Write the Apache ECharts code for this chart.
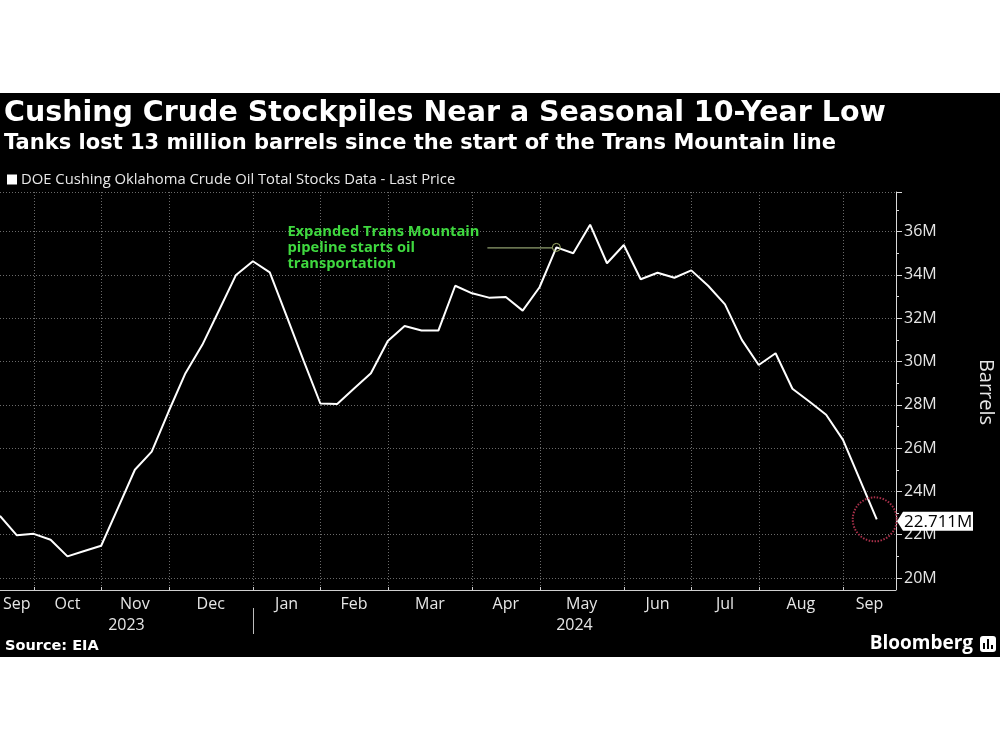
<!DOCTYPE html>
<html><head><meta charset="utf-8">
<script src="https://cdn.jsdelivr.net/npm/echarts@6/dist/echarts.min.js"></script>
<style>html,body{margin:0;padding:0;background:#fff}#c{width:1000px;height:750px}</style>
</head><body><div id="c"></div>
<script>
// ---- data ----
const weeks = [
  '2023-09-22','2023-09-29','2023-10-06','2023-10-13','2023-10-20','2023-10-27',
  '2023-11-03','2023-11-10','2023-11-17','2023-11-24','2023-12-01','2023-12-08',
  '2023-12-15','2023-12-22','2023-12-29','2024-01-05','2024-01-12','2024-01-19',
  '2024-01-26','2024-02-02','2024-02-09','2024-02-16','2024-02-23','2024-03-01',
  '2024-03-08','2024-03-15','2024-03-22','2024-03-29','2024-04-05','2024-04-12',
  '2024-04-19','2024-04-26','2024-05-03','2024-05-10','2024-05-17','2024-05-24',
  '2024-05-31','2024-06-07','2024-06-14','2024-06-21','2024-06-28','2024-07-05',
  '2024-07-12','2024-07-19','2024-07-26','2024-08-02','2024-08-09','2024-08-16',
  '2024-08-23','2024-08-30','2024-09-06','2024-09-13','2024-09-20'
];
const stocks = [
  22.87, 21.97, 22.04, 21.77, 21.00, 21.25,
  21.49, 23.24, 25.00, 25.84, 27.69, 29.46,
  30.77, 32.38, 34.00, 34.63, 34.12, 32.10,
  30.05, 28.06, 28.04, 28.75, 29.46, 30.95,
  31.64, 31.43, 31.43, 33.50, 33.15, 32.95,
  32.98, 32.35, 33.43, 35.27, 35.00, 36.32,
  34.54, 35.38, 33.80, 34.10, 33.87, 34.21,
  33.50, 32.64, 31.00, 29.84, 30.38, 28.74,
  28.15, 27.54, 26.38, 24.54, 22.711
];
const monthLabels = ['Sep','Oct','Nov','Dec','Jan','Feb','Mar','Apr','May','Jun','Jul','Aug','Sep'];
const yearLabels = ['2023','2024'];
const xMinDate = '2023-09-22';
const xMaxDate = '2024-09-28';
const yMin = 20, yMax = 37.83, yStep = 2;
const seriesName = 'DOE Cushing Oklahoma Crude Oil Total Stocks Data - Last Price';
const titleText = 'Cushing Crude Stockpiles Near a Seasonal 10-Year Low';
const subtitleText = 'Tanks lost 13 million barrels since the start of the Trans Mountain line';
const annotationDate = '2024-05-10';
const annotationLines = ['Expanded Trans Mountain', 'pipeline starts oil', 'transportation'];
const yAxisTitle = 'Barrels';
const sourceText = 'Source: EIA';
const brandText = 'Bloomberg';

// ---- helpers ----
function toTime(s) { const p = s.split('-').map(Number); return new Date(p[0], p[1] - 1, p[2]).getTime(); }
const FONT = '"Open Sans", "DejaVu Sans", sans-serif';
const BFONT = '"DejaVu Sans", "Open Sans", sans-serif';
const xMin = toTime(xMinDate), xMax = toTime(xMaxDate);
const lineData = weeks.map((d, i) => [toTime(d), stocks[i]]);
const monthBounds = [];
let yearBound = null;
for (let i = 1; i < weeks.length; i++) {
  const a = weeks[i - 1].split('-'), b = weeks[i].split('-');
  if (a[1] !== b[1]) monthBounds.push(toTime(weeks[i]));
  if (a[0] !== b[0]) yearBound = toTime(weeks[i]);
}
const segs = [xMin].concat(monthBounds, [xMax]);
const lastIdx = stocks.length - 1;
const annIdx = weeks.indexOf(annotationDate);

const chart = echarts.init(document.getElementById('c'), null, { renderer: 'canvas' });

function renderBack(params, api) {
  const cs = params.coordSys;
  const base = cs.y + cs.height;
  const axisY = base + 12;
  const ch = [];
  monthBounds.forEach(t => {
    const x = Math.round(api.coord([t, yMin])[0]) + 0.5;
    ch.push({ type: 'line', shape: { x1: x, y1: cs.y, x2: x, y2: axisY },
      style: { stroke: '#6a6a6a', lineWidth: 1, lineDash: [1, 2] } });
    ch.push({ type: 'line', shape: { x1: x, y1: axisY - 3, x2: x, y2: axisY },
      style: { stroke: '#cfcfcf', lineWidth: 1 } });
  });
  for (let i = 0; i < segs.length - 1; i++) {
    const x = api.coord([(segs[i] + segs[i + 1]) / 2, yMin])[0];
    ch.push({ type: 'text', style: { text: monthLabels[i], x: x, y: axisY + 14,
      textAlign: 'center', textVerticalAlign: 'middle', align: 'center', verticalAlign: 'middle',
      fill: '#e6e6e6', font: '16px ' + FONT } });
  }
  const yb = api.coord([yearBound, yMin])[0];
  const yrSegs = [[xMin, yearBound], [yearBound, xMax]];
  yrSegs.forEach((s, i) => {
    const x = api.coord([(s[0] + s[1]) / 2, yMin])[0];
    ch.push({ type: 'text', style: { text: yearLabels[i], x: x, y: axisY + 35,
      textAlign: 'center', textVerticalAlign: 'middle', align: 'center', verticalAlign: 'middle',
      fill: '#e6e6e6', font: '16px ' + FONT } });
  });
  ch.push({ type: 'line', shape: { x1: Math.round(yb) + 0.5, y1: axisY + 18, x2: Math.round(yb) + 0.5, y2: axisY + 44 },
    style: { stroke: '#bdbdbd', lineWidth: 1 } });
  // extend y-axis line to the x-axis line
  const rx = Math.round(cs.x + cs.width) + 0.5;
  ch.push({ type: 'line', shape: { x1: rx, y1: base, x2: rx, y2: axisY },
    style: { stroke: '#d9d9d9', lineWidth: 1 } });
  return { type: 'group', children: ch };
}

function renderFront(params, api) {
  const cs = params.coordSys;
  const ch = [];
  const last = api.coord([toTime(weeks[lastIdx]), stocks[lastIdx]]);
  ch.push({ type: 'circle', shape: { cx: last[0] - 2, cy: last[1], r: 22 },
    style: { fill: 'none', stroke: '#a8304a', lineWidth: 2, lineDash: [1.5, 1.5] } });
  const ax = cs.x + cs.width;
  const ly = last[1] + 2;
  const txt = stocks[lastIdx].toFixed(3) + 'M';
  ch.push({ type: 'polygon', shape: { points: [[ax + 1, ly], [ax + 7, ly - 9.5], [ax + 77, ly - 9.5], [ax + 77, ly + 9.5], [ax + 7, ly + 9.5]] },
    style: { fill: '#ffffff' } });
  ch.push({ type: 'text', style: { text: txt, x: ax + 8, y: ly + 0.5,
    textAlign: 'left', textVerticalAlign: 'middle', align: 'left', verticalAlign: 'middle',
    fill: '#000', font: '17px ' + FONT } });
  // annotation
  const p = api.coord([toTime(weeks[annIdx]), stocks[annIdx]]);
  ch.push({ type: 'line', shape: { x1: p[0] - 69, y1: p[1] + 0.5, x2: p[0] - 4, y2: p[1] + 0.5 },
    style: { stroke: '#b4c68a', lineWidth: 1 } });
  ch.push({ type: 'circle', shape: { cx: p[0], cy: p[1], r: 4 },
    style: { fill: 'none', stroke: '#a6b56e', lineWidth: 1 } });
  annotationLines.forEach((s, i) => {
    ch.push({ type: 'text', style: { text: s, x: p[0] - 269, y: p[1] - 16 + i * 16,
      textAlign: 'left', textVerticalAlign: 'middle', align: 'left', verticalAlign: 'middle',
      fill: '#3fd83f', font: 'bold 14.7px ' + FONT } });
  });
  return { type: 'group', children: ch };
}

const option = {
  backgroundColor: '#000',
  animation: false,
  textStyle: { fontFamily: FONT },
  grid: { left: 0, right: 104, top: 192, bottom: 172, containLabel: false },
  legend: {
    data: [{ name: seriesName, icon: 'rect' }],
    left: 7, top: 172, padding: 0, itemWidth: 10, itemHeight: 10, itemGap: 4,
    textStyle: { color: '#e8e8e8', fontSize: 14.8, fontFamily: FONT, padding: [0, 0, 0, -1] },
    selectedMode: false
  },
  xAxis: {
    type: 'time', min: xMin, max: xMax, offset: 12,
    axisLine: { show: true, lineStyle: { color: '#cfcfcf', width: 1 } },
    axisTick: { show: false }, axisLabel: { show: false }, splitLine: { show: false }
  },
  yAxis: {
    type: 'value', position: 'right', min: yMin, max: yMax, interval: yStep,
    axisLine: { show: true, lineStyle: { color: '#d9d9d9', width: 1 } },
    axisTick: { show: true, length: 6, lineStyle: { color: '#d9d9d9' } },
    minorTick: { show: true, splitNumber: 2, length: 3, lineStyle: { color: '#d9d9d9' } },
    axisLabel: { color: '#e6e6e6', fontSize: 16, margin: 8, fontFamily: FONT,
      showMaxLabel: false, formatter: v => (v % 2 === 0 ? v + 'M' : '') },
    splitLine: { show: true, lineStyle: { color: '#6a6a6a', width: 1, type: [1, 2] } }
  },
  graphic: [
    { type: 'rect', shape: { x: 0, y: 0, width: 1000, height: 93 }, style: { fill: '#fff' } },
    { type: 'rect', shape: { x: 0, y: 657, width: 1000, height: 93 }, style: { fill: '#fff' } },
    { type: 'text', x: 4, y: 114, style: { text: titleText, fill: '#fff', font: 'bold 28.5px ' + BFONT,
      textVerticalAlign: 'middle', verticalAlign: 'middle' } },
    { type: 'text', x: 4, y: 144, style: { text: subtitleText, fill: '#fff', font: 'bold 21px ' + BFONT,
      textVerticalAlign: 'middle', verticalAlign: 'middle' } },
    { type: 'text', x: 986, y: 392, rotation: -Math.PI / 2, style: { text: yAxisTitle, fill: '#e6e6e6',
      font: '20px ' + FONT, textAlign: 'center', align: 'center', textVerticalAlign: 'middle', verticalAlign: 'middle' } },
    { type: 'text', x: 5, y: 646, style: { text: sourceText, fill: '#fff', font: 'bold 14.5px ' + BFONT,
      textVerticalAlign: 'middle', verticalAlign: 'middle' } },
    { type: 'text', x: 973, y: 644, style: { text: brandText, fill: '#fff', font: 'bold 19px ' + FONT,
      textAlign: 'right', align: 'right', textVerticalAlign: 'middle', verticalAlign: 'middle' } },
    { type: 'rect', shape: { x: 980, y: 636, width: 16, height: 16, r: 3 }, style: { fill: '#fff' } },
    { type: 'rect', shape: { x: 983, y: 643, width: 2, height: 6 }, style: { fill: '#000' } },
    { type: 'rect', shape: { x: 987, y: 639, width: 2, height: 10 }, style: { fill: '#000' } },
    { type: 'rect', shape: { x: 991, y: 645, width: 2, height: 4 }, style: { fill: '#000' } }
  ],
  series: [
    { type: 'custom', name: 'back', silent: true, z: 1, clip: false, renderItem: renderBack,
      data: [[xMin, yMin]], encode: { x: 0, y: 1 }, legendHoverLink: false },
    { type: 'line', name: seriesName, data: lineData, showSymbol: false, symbol: 'none', z: 5,
      lineStyle: { color: '#ffffff', width: 2 }, itemStyle: { color: '#ffffff' } },
    { type: 'custom', name: 'front', silent: true, z: 10, clip: false, renderItem: renderFront,
      data: [[xMin, yMin]], encode: { x: 0, y: 1 } }
  ]
};
chart.setOption(option);
</script></body></html>
